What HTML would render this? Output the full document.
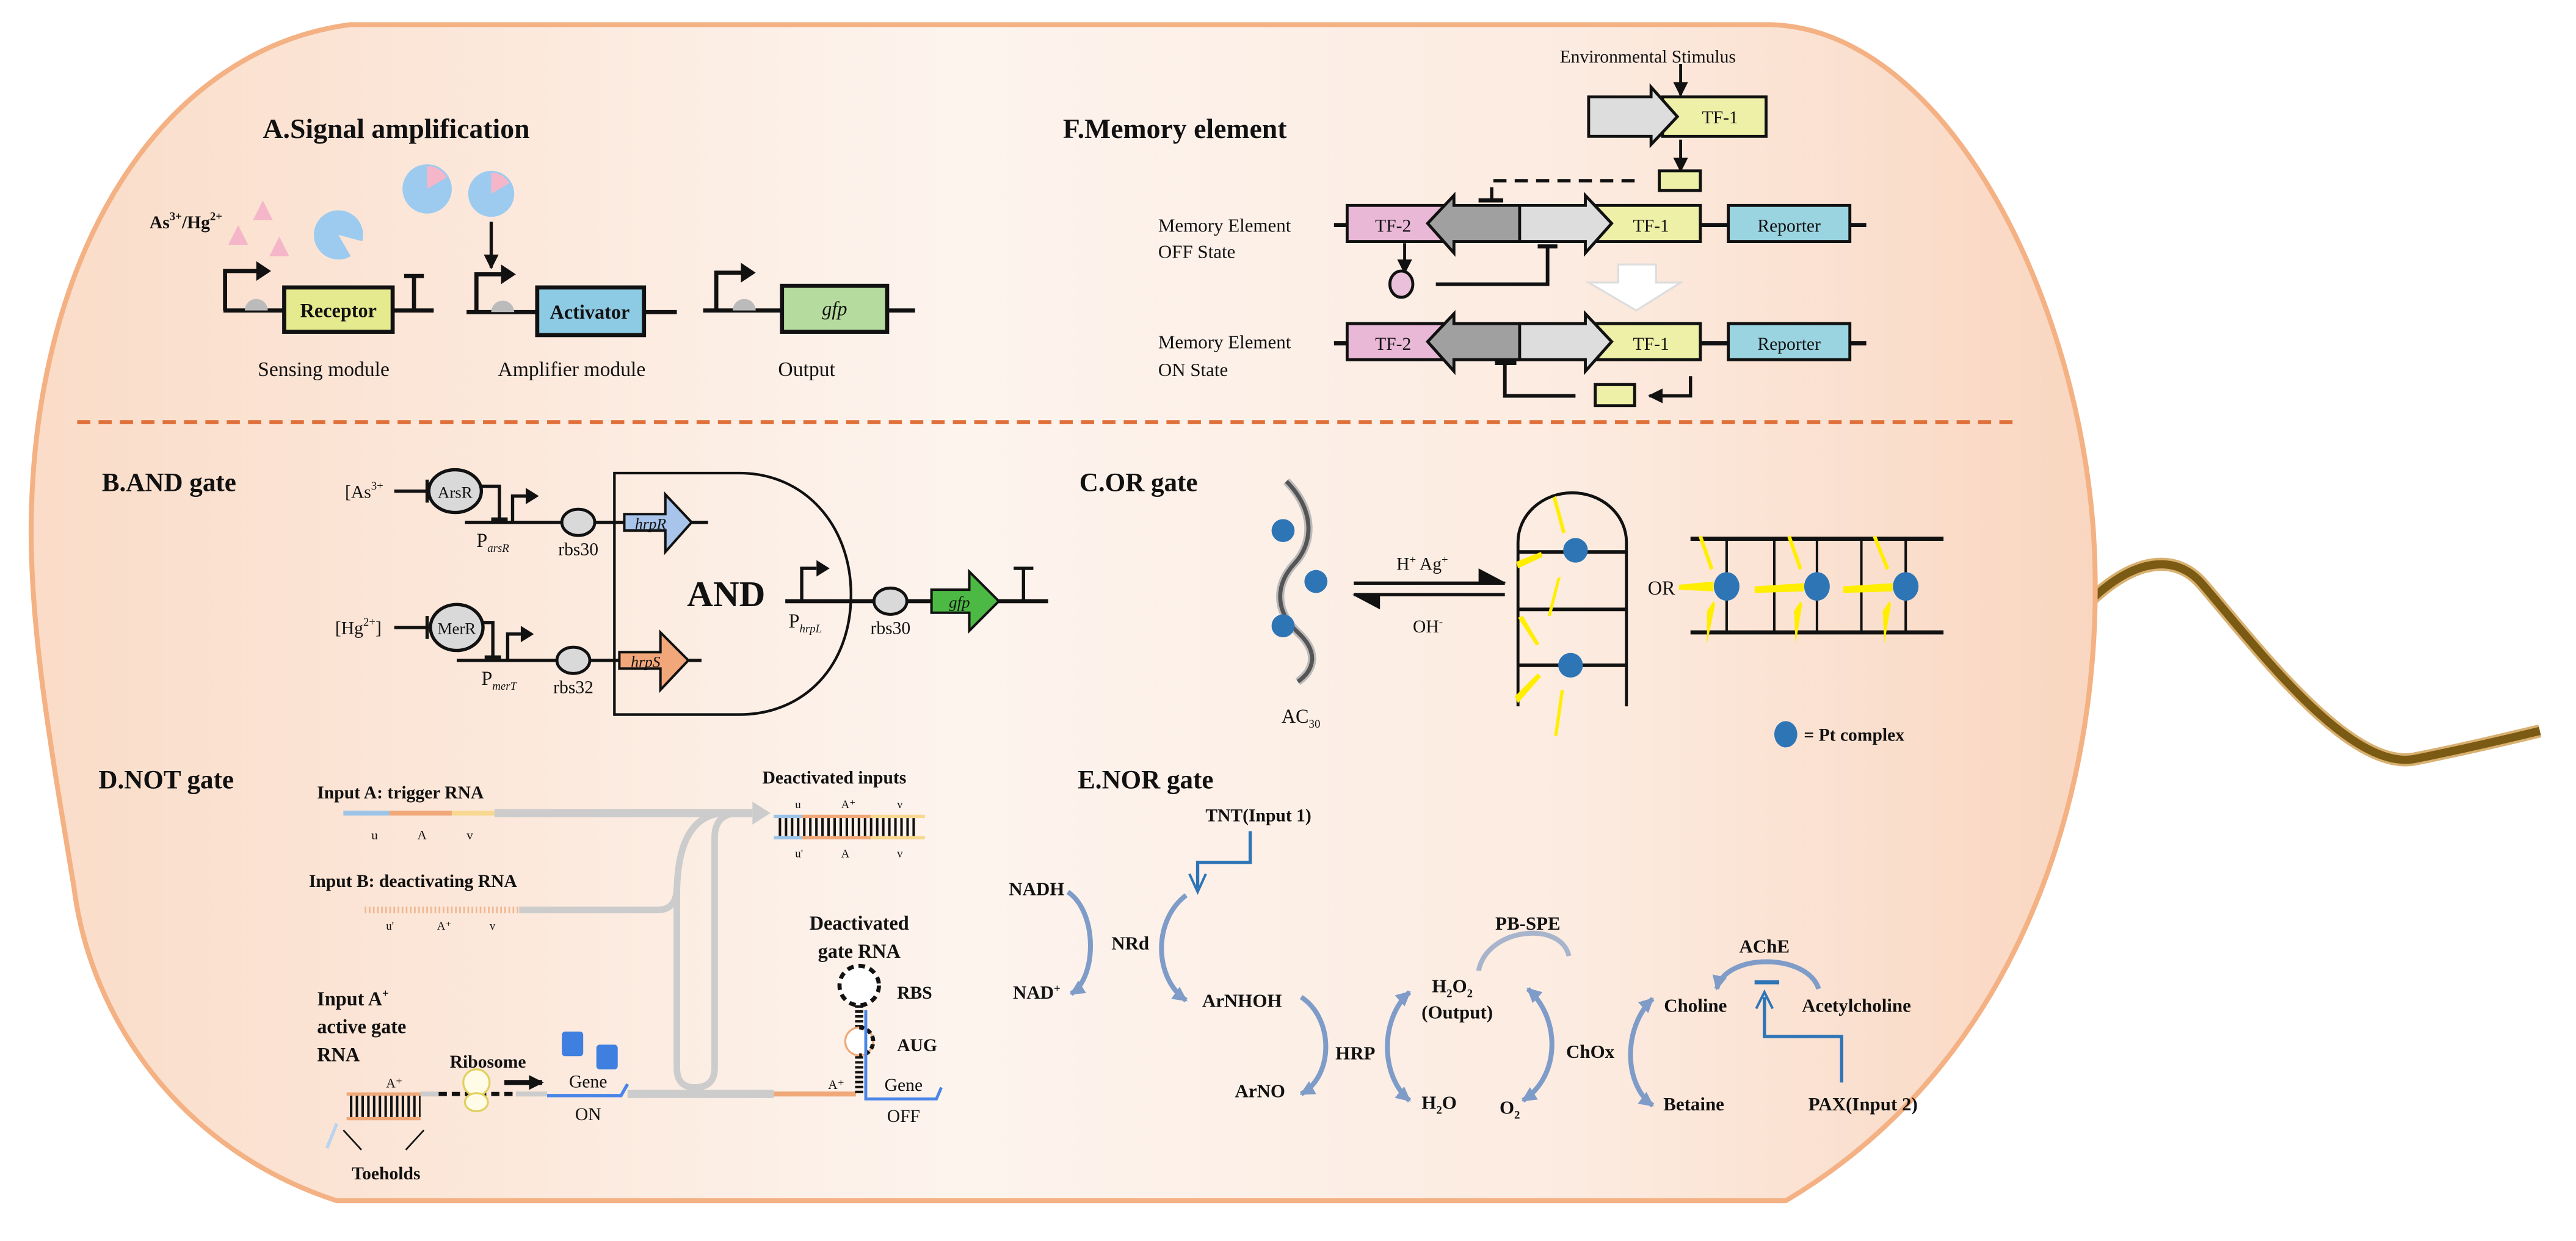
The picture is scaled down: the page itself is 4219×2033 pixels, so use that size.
<!DOCTYPE html>
<html><head><meta charset="utf-8"><style>
html,body{margin:0;padding:0;background:#fff;}
svg{display:block;}
text{font-family:"Liberation Serif",serif;fill:#111;}
.b{font-weight:bold;}
</style></head><body>
<svg width="4219" height="2033" viewBox="0 0 1568 755.5" preserveAspectRatio="none" xmlns="http://www.w3.org/2000/svg">
<defs>
<linearGradient id="cg" x1="0" y1="0" x2="1" y2="0">
<stop offset="0" stop-color="#fadcc8"/><stop offset="0.45" stop-color="#fdf4ee"/><stop offset="0.75" stop-color="#fcebe0"/><stop offset="1" stop-color="#f9d6c0"/>
</linearGradient>
<marker id="ab" markerUnits="userSpaceOnUse" markerWidth="9" markerHeight="9" refX="8" refY="4.5" orient="auto"><path d="M0,0 L9,4.5 L0,9 Z" fill="#111"/></marker>
<marker id="bl" markerUnits="userSpaceOnUse" markerWidth="9" markerHeight="9" refX="8" refY="4.5" orient="auto"><path d="M0,0 L9,4.5 L0,9 Z" fill="#7f9cc9"/></marker>
<marker id="bls" markerUnits="userSpaceOnUse" markerWidth="9" markerHeight="9" refX="1" refY="4.5" orient="auto"><path d="M9,0 L0,4.5 L9,9 Z" fill="#7f9cc9"/></marker>
</defs>

<path d="M1270,368 C1300,338 1325,338 1340,355 C1372,392 1430,470 1470,462 C1500,456 1525,450 1546,445" fill="none" stroke="#d8b070" stroke-width="8"/>
<path d="M1270,368 C1300,338 1325,338 1340,355 C1372,392 1430,470 1470,462 C1500,456 1525,450 1546,445" fill="none" stroke="#7b5a14" stroke-width="5"/>

<path d="M213,15 L1078,15 C1180,18 1262,170 1274,320 C1284,460 1240,640 1087,731 L205,731 C110,700 55,620 45,540 C30,450 18,380 19,316 C22,150 100,30 213,15 Z" fill="url(#cg)" stroke="#f4b183" stroke-width="3"/>

<line x1="47" y1="257" x2="1230" y2="257" stroke="#e0703a" stroke-width="2.5" stroke-dasharray="8 5"/>

<!-- A -->
<text x="160" y="84" class="b" font-size="17">A.Signal amplification</text>
<text x="91" y="139" class="b" font-size="11">As<tspan font-size="7" dy="-5">3+</tspan><tspan dy="5">/Hg</tspan><tspan font-size="7" dy="-5">2+</tspan></text>
<polygon points="160,122 166,134 154,134" fill="#f4b6c8"/>
<polygon points="145,137 151,149 139,149" fill="#f4b6c8"/>
<polygon points="170,144 176,156 164,156" fill="#f4b6c8"/>
<path d="M206,143 L220.5,146.9 A15,15 0 1 0 213.5,156 Z" fill="#9dcbf0"/>
<circle cx="260" cy="115" r="15" fill="#9dcbf0"/>
<path d="M260,115 L260,101 A14,14 0 0 1 272,108 Z" fill="#f4b6c8"/>
<circle cx="299" cy="118" r="14" fill="#9dcbf0"/>
<path d="M299,118 L299,105 A13,13 0 0 1 310,111.5 Z" fill="#f4b6c8"/>
<line x1="299" y1="135" x2="299" y2="163" stroke="#111" stroke-width="2" marker-end="url(#ab)"/>

<g stroke="#111" stroke-width="2.5" fill="none">
<line x1="136" y1="189" x2="264" y2="189"/>
<path d="M137,189 V165 H157"/>
<line x1="252" y1="189" x2="252" y2="168"/><line x1="246" y1="168" x2="258" y2="168"/>
<line x1="284" y1="190" x2="412" y2="190"/>
<path d="M290,190 V167 H306"/>
<line x1="428" y1="189" x2="557" y2="189"/>
<path d="M436,189 V166 H452"/>
</g>
<polygon points="156,159 165,165 156,171" fill="#111"/>
<polygon points="305,161 314,167 305,173" fill="#111"/>
<polygon points="451,160 460,166 451,172" fill="#111"/>
<path d="M149,189 A7,7 0 0 1 163,189 Z" fill="#bbb"/>
<path d="M299,190 A7,7 0 0 1 313,190 Z" fill="#bbb"/>
<path d="M446,189 A7,7 0 0 1 460,189 Z" fill="#bbb"/>
<rect x="173" y="175" width="66" height="27" fill="#e6ea8e" stroke="#111" stroke-width="2.5"/>
<rect x="327" y="175" width="65" height="29" fill="#8dcae4" stroke="#111" stroke-width="2.5"/>
<rect x="476" y="174" width="64" height="28" fill="#b5dc9e" stroke="#111" stroke-width="2.5"/>
<text x="206" y="193" class="b" font-size="12" text-anchor="middle">Receptor</text>
<text x="359" y="194" class="b" font-size="12" text-anchor="middle">Activator</text>
<text x="508" y="192" font-style="italic" font-size="12" text-anchor="middle">gfp</text>
<text x="197" y="229" font-size="12.5" text-anchor="middle">Sensing module</text>
<text x="348" y="229" font-size="12.5" text-anchor="middle">Amplifier module</text>
<text x="491" y="229" font-size="12.5" text-anchor="middle">Output</text>

<!-- F -->
<text x="647" y="84" class="b" font-size="17">F.Memory element</text>
<text x="1003" y="38" font-size="11" text-anchor="middle">Environmental Stimulus</text>
<line x1="1023" y1="39" x2="1023" y2="58" stroke="#111" stroke-width="1.8" marker-end="url(#ab)"/>
<rect x="1012" y="59" width="63" height="24" fill="#eef0a8" stroke="#111" stroke-width="1.8"/>
<polygon points="967,59 1005,59 1005,53 1021,71 1005,88 1005,83 967,83" fill="#ddd" stroke="#111" stroke-width="1.8"/>
<text x="1047" y="75" font-size="11" text-anchor="middle">TF-1</text>
<line x1="1023" y1="85" x2="1023" y2="104" stroke="#111" stroke-width="1.8" marker-end="url(#ab)"/>
<rect x="1010" y="104" width="25" height="12" fill="#eef0a8" stroke="#111" stroke-width="1.8"/>
<path d="M995,110 H908 V121" fill="none" stroke="#111" stroke-width="2" stroke-dasharray="8 5"/>
<line x1="900" y1="122" x2="915" y2="122" stroke="#111" stroke-width="2.5"/>

<g id="row">
<line x1="812" y1="137" x2="1136" y2="137" stroke="#111" stroke-width="2.5"/>
<rect x="820" y="125" width="60" height="22" fill="#e9b8d6" stroke="#111" stroke-width="1.8"/>
<rect x="970" y="125" width="65" height="22" fill="#eef0a8" stroke="#111" stroke-width="1.8"/>
<rect x="1052" y="125" width="74" height="22" fill="#9ad4e0" stroke="#111" stroke-width="1.8"/>
<polygon points="925,125 885,125 885,119 869,136 885,154 885,147 925,147" fill="#a0a0a0" stroke="#111" stroke-width="1.8"/>
<polygon points="925,125 965,125 965,119 981,136 965,154 965,147 925,147" fill="#ddd" stroke="#111" stroke-width="1.8"/>
<text x="848" y="141" font-size="11" text-anchor="middle">TF-2</text>
<text x="1005" y="141" font-size="11" text-anchor="middle">TF-1</text>
<text x="1089" y="141" font-size="11" text-anchor="middle">Reporter</text>
</g>
<use href="#row" transform="translate(0,72)"/>
<text x="705" y="141" font-size="11.5">Memory Element</text>
<text x="705" y="157" font-size="11.5">OFF State</text>
<text x="705" y="212" font-size="11.5">Memory Element</text>
<text x="705" y="229" font-size="11.5">ON State</text>
<line x1="855" y1="148" x2="855" y2="166" stroke="#111" stroke-width="1.8" marker-end="url(#ab)"/>
<ellipse cx="853" cy="173" rx="7" ry="8" fill="#ebc0da" stroke="#111" stroke-width="1.8"/>
<path d="M874,173 H942 V150" fill="none" stroke="#111" stroke-width="2.2"/>
<line x1="936" y1="150" x2="948" y2="150" stroke="#111" stroke-width="2.5"/>
<polygon points="985,161 1008,161 1008,172 1023,172 996,189 967,172 985,172" fill="#fff" stroke="#ddd" stroke-width="1.2"/>
<line x1="910" y1="221" x2="923" y2="221" stroke="#111" stroke-width="2.5"/>
<path d="M916,221 V241 H959" fill="none" stroke="#111" stroke-width="2.2"/>
<rect x="971" y="234" width="24" height="13" fill="#eef0a8" stroke="#111" stroke-width="1.8"/>
<path d="M1029,229 V241 H1004" fill="none" stroke="#111" stroke-width="2" marker-end="url(#ab)"/>

<!-- B -->
<text x="62" y="299" class="b" font-size="16">B.AND gate</text>
<text x="210" y="303" font-size="11">[As<tspan font-size="7" dy="-5">3+</tspan></text>
<text x="204" y="386" font-size="11">[Hg<tspan font-size="7" dy="-5">2+</tspan><tspan dy="5">]</tspan></text>
<g stroke="#111" stroke-width="2" fill="none">
<line x1="240" y1="299" x2="260" y2="299"/><line x1="260" y1="292" x2="260" y2="306"/>
<line x1="240" y1="382" x2="260" y2="382"/><line x1="260" y1="375" x2="260" y2="389"/>
<path d="M293,296 H304 V316"/><line x1="299" y1="316" x2="309" y2="316"/>
<path d="M294,379 H300 V400"/><line x1="295" y1="400" x2="305" y2="400"/>
<line x1="283" y1="318" x2="431" y2="318"/>
<line x1="278" y1="402" x2="427" y2="402"/>
<path d="M312,318 V302 H320"/>
<path d="M309,402 V386 H317"/>
<path d="M374,288 H450 C490,288 518,320 518,362 C518,405 490,435 450,435 H374 Z" stroke-width="1.6"/>
<line x1="478" y1="366" x2="638" y2="366" stroke-width="2.5"/>
<path d="M488,366 V346 H497"/>
<line x1="623" y1="366" x2="623" y2="346"/><line x1="617" y1="346" x2="629" y2="346"/>
</g>
<polygon points="320,297 328,302 320,307" fill="#111"/>
<polygon points="317,381 325,386 317,391" fill="#111"/>
<polygon points="497,341 505,346 497,351" fill="#111"/>
<ellipse cx="277" cy="299" rx="16" ry="13" fill="#d9d9d9" stroke="#111" stroke-width="2"/>
<ellipse cx="278" cy="382" rx="16" ry="14" fill="#d9d9d9" stroke="#111" stroke-width="2"/>
<text x="277" y="303" font-size="10" text-anchor="middle">ArsR</text>
<text x="278" y="386" font-size="10" text-anchor="middle">MerR</text>
<ellipse cx="352" cy="318" rx="10" ry="8" fill="#d9d9d9" stroke="#111" stroke-width="1.8"/>
<ellipse cx="349" cy="402" rx="10" ry="8" fill="#d9d9d9" stroke="#111" stroke-width="1.8"/>
<ellipse cx="542" cy="366" rx="10" ry="8" fill="#d9d9d9" stroke="#111" stroke-width="1.8"/>
<polygon points="380,313 405,313 405,301 421,318 405,336 405,323 380,323" fill="#a9c4ea" stroke="#111" stroke-width="1.5"/>
<polygon points="377,397 402,397 402,385 419,402 402,420 402,407 377,407" fill="#f2a77a" stroke="#111" stroke-width="1.5"/>
<polygon points="567,359 590,359 590,348 608,366 590,384 590,373 567,373" fill="#4cb944" stroke="#111" stroke-width="1.5"/>
<text x="396" y="322" font-size="9.5" font-style="italic" text-anchor="middle" fill="#234">hrpR</text>
<text x="393" y="406" font-size="9.5" font-style="italic" text-anchor="middle">hrpS</text>
<text x="584" y="370" font-size="10" font-style="italic" text-anchor="middle">gfp</text>
<text x="442" y="369" class="b" font-size="22" text-anchor="middle">AND</text>
<text x="290" y="333" font-size="12">P<tspan font-size="7" font-style="italic" dy="3">arsR</tspan></text>
<text x="293" y="417" font-size="12">P<tspan font-size="7" font-style="italic" dy="3">merT</tspan></text>
<text x="480" y="382" font-size="12">P<tspan font-size="7" font-style="italic" dy="3">hrpL</tspan></text>
<text x="352" y="338" font-size="11" text-anchor="middle">rbs30</text>
<text x="349" y="422" font-size="11" text-anchor="middle">rbs32</text>
<text x="542" y="386" font-size="11" text-anchor="middle">rbs30</text>

<!-- C -->
<text x="657" y="299" class="b" font-size="16">C.OR gate</text>
<path d="M783,293 C800,310 800,330 788,343 C776,356 776,372 790,385 C803,397 800,408 790,415" fill="none" stroke="#bbb" stroke-width="5"/>
<path d="M783,293 C800,310 800,330 788,343 C776,356 776,372 790,385 C803,397 800,408 790,415" fill="none" stroke="#555" stroke-width="2.5"/>
<circle cx="781" cy="323" r="7" fill="#2e75b6"/>
<circle cx="801" cy="354" r="7" fill="#2e75b6"/>
<circle cx="781" cy="381" r="7" fill="#2e75b6"/>
<text x="780" y="440" font-size="12">AC<tspan font-size="7" dy="3">30</tspan></text>
<line x1="824" y1="355" x2="916" y2="355" stroke="#111" stroke-width="2"/>
<polygon points="900,346 917,355 900,355" fill="#111"/>
<line x1="824" y1="362" x2="916" y2="362" stroke="#111" stroke-width="2"/>
<polygon points="840,362 823,362 840,371" fill="#111"/>
<text x="850" y="347" font-size="11">H<tspan font-size="7" dy="-4">+</tspan><tspan dy="4">  Ag</tspan><tspan font-size="7" dy="-4">+</tspan></text>
<text x="860" y="385" font-size="11">OH<tspan font-size="7" dy="-4">-</tspan></text>
<g stroke="#111" fill="none">
<path d="M924,430 V330 A33,30 0 0 1 990,330 V430" stroke-width="1.8"/>
<line x1="924" y1="336" x2="990" y2="336" stroke-width="2.2"/>
<line x1="924" y1="371" x2="990" y2="371" stroke-width="2.2"/>
<line x1="924" y1="405" x2="990" y2="405" stroke-width="2.2"/>
<line x1="1029" y1="328" x2="1183" y2="328" stroke-width="2.5"/>
<line x1="1029" y1="385" x2="1183" y2="385" stroke-width="2.5"/>
<line x1="1051" y1="328" x2="1051" y2="385" stroke-width="1.5"/>
<line x1="1080" y1="328" x2="1080" y2="385" stroke-width="1.5"/>
<line x1="1106" y1="328" x2="1106" y2="385" stroke-width="1.5"/>
<line x1="1133" y1="328" x2="1133" y2="385" stroke-width="1.5"/>
<line x1="1160" y1="328" x2="1160" y2="385" stroke-width="1.5"/>
</g>
<g fill="#ffee00">
<polygon points="945,303 947,302 953,324 951,325"/>
<polygon points="923,342 938,336 939,339 924,346"/>
<polygon points="948,352 950,351 944,375 942,375"/>
<polygon points="924,376 927,375 937,392 935,393"/>
<polygon points="922,424 936,410 938,412 924,428"/>
<polygon points="950,420 952,420 948,448 946,448"/>
<polygon points="1034,327 1036,326 1043,346 1041,347"/>
<polygon points="1039,372 1043,366 1044,368 1039,392"/>
<polygon points="1088,327 1090,326 1097,346 1095,347"/>
<polygon points="1092,372 1096,366 1097,368 1093,392"/>
<polygon points="1140,327 1142,326 1150,346 1148,347"/>
<polygon points="1146,372 1150,366 1151,368 1147,392"/>
<polygon points="1022,356 1043,354 1043,360 1022,359"/>
<polygon points="1068,357 1098,355 1098,360 1068,361"/>
<polygon points="1122,357 1152,355 1152,360 1122,361"/>
</g>
<circle cx="959" cy="335" r="7.5" fill="#2e75b6"/>
<circle cx="956" cy="405" r="7.5" fill="#2e75b6"/>
<ellipse cx="1051" cy="357" rx="7.8" ry="8.7" fill="#2e75b6"/>
<ellipse cx="1106" cy="357" rx="7.8" ry="8.7" fill="#2e75b6"/>
<ellipse cx="1160" cy="357" rx="7.8" ry="8.7" fill="#2e75b6"/>
<text x="1003" y="362" font-size="12">OR</text>
<ellipse cx="1087" cy="447" rx="7" ry="8" fill="#2e75b6"/>
<text x="1098" y="451" class="b" font-size="11">= Pt complex</text>

<!-- D -->
<text x="60" y="480" class="b" font-size="16">D.NOT gate</text>
<text x="193" y="486" class="b" font-size="11">Input A: trigger RNA</text>
<line x1="209" y1="495" x2="237" y2="495" stroke="#9cc3e8" stroke-width="3"/>
<line x1="237" y1="495" x2="275" y2="495" stroke="#f0a878" stroke-width="3"/>
<line x1="275" y1="495" x2="301" y2="495" stroke="#f8d890" stroke-width="3"/>
<line x1="301" y1="495" x2="458" y2="495" stroke="#ccc" stroke-width="5"/>
<polygon points="458,488 469,495 458,502" fill="#ccc"/>
<text x="226" y="511" font-size="8" fill="#9cc3e8">u</text>
<text x="254" y="511" font-size="8" fill="#f0a878">A</text>
<text x="284" y="511" font-size="8" fill="#f8d890">v</text>
<text x="464" y="477" class="b" font-size="11">Deactivated inputs</text>
<line x1="471" y1="497" x2="488" y2="497" stroke="#9cc3e8" stroke-width="2"/>
<line x1="488" y1="497" x2="530" y2="497" stroke="#f0a878" stroke-width="2"/>
<line x1="530" y1="497" x2="563" y2="497" stroke="#f8d890" stroke-width="2"/>
<line x1="471" y1="510" x2="488" y2="510" stroke="#9cc3e8" stroke-width="2"/>
<line x1="488" y1="510" x2="530" y2="510" stroke="#f0a878" stroke-width="2"/>
<line x1="530" y1="510" x2="563" y2="510" stroke="#f8d890" stroke-width="2"/>
<line x1="474" y1="503.5" x2="558" y2="503.5" stroke="#111" stroke-width="11" stroke-dasharray="1.5 2.2"/>
<text x="484" y="492" font-size="7" fill="#9cc3e8">u</text>
<text x="512" y="492" font-size="7" fill="#f0a878">A⁺</text>
<text x="546" y="492" font-size="7" fill="#f8d890">v</text>
<text x="484" y="522" font-size="7" fill="#9cc3e8">u'</text>
<text x="512" y="522" font-size="7" fill="#f0a878">A</text>
<text x="546" y="522" font-size="7" fill="#f8d890">v</text>
<text x="188" y="540" class="b" font-size="11">Input B: deactivating RNA</text>
<line x1="222" y1="554" x2="316" y2="554" stroke="#f0b890" stroke-width="4" stroke-dasharray="1 1.5"/>
<text x="235" y="566" font-size="7" fill="#9cc3e8">u'</text>
<text x="266" y="566" font-size="7" fill="#f0a878">A⁺</text>
<text x="298" y="566" font-size="7" fill="#f8d890">v</text>
<g fill="none" stroke="#ccc" stroke-width="4">
<path d="M316,554 H400 Q412,554 412,540 V650 Q412,662 423,662 Q435,662 435,650 V510 Q435,495 450,495"/>
<path d="M412,545 Q412,497 440,495"/>
</g>
<text x="193" y="612" class="b" font-size="12">Input A<tspan font-size="7" dy="-5">+</tspan></text>
<text x="193" y="629" class="b" font-size="12">active gate</text>
<text x="193" y="646" class="b" font-size="12">RNA</text>
<line x1="211" y1="666" x2="256" y2="666" stroke="#f0a878" stroke-width="2"/>
<line x1="211" y1="681" x2="256" y2="681" stroke="#f0a878" stroke-width="2"/>
<line x1="213" y1="673.5" x2="256" y2="673.5" stroke="#111" stroke-width="13" stroke-dasharray="1.5 2"/>
<line x1="256" y1="666" x2="267" y2="666" stroke="#ccc" stroke-width="3"/>
<line x1="267" y1="666" x2="314" y2="666" stroke="#111" stroke-width="2.5" stroke-dasharray="5 3"/>
<line x1="314" y1="666" x2="333" y2="666" stroke="#ccc" stroke-width="3"/>
<circle cx="290" cy="659" r="8" fill="#fffbe6" stroke="#e0d060" stroke-width="1.2"/>
<ellipse cx="290" cy="671" rx="7" ry="5.5" fill="#fffbe6" stroke="#e0d060" stroke-width="1.2"/>
<line x1="307" y1="659" x2="330" y2="659" stroke="#111" stroke-width="3" marker-end="url(#ab)"/>
<text x="297" y="650" class="b" font-size="11" text-anchor="middle">Ribosome</text>
<text x="235" y="662" font-size="8" fill="#f0a878">A⁺</text>
<rect x="342" y="628" width="13" height="15" rx="2" fill="#3f7fe0"/>
<rect x="363" y="636" width="13" height="15" rx="2" fill="#3f7fe0"/>
<path d="M333,667 H378 L382,660" fill="none" stroke="#4a86e8" stroke-width="2"/>
<text x="358" y="662" font-size="11" fill="#4a7fd0" text-anchor="middle">Gene</text>
<text x="358" y="682" font-size="11" fill="#4a7fd0" text-anchor="middle">ON</text>
<line x1="382" y1="666" x2="471" y2="666" stroke="#ccc" stroke-width="5"/>
<line x1="471" y1="666" x2="521" y2="666" stroke="#f0a878" stroke-width="3"/>
<line x1="205" y1="684" x2="199" y2="699" stroke="#b8d4f0" stroke-width="2"/>
<line x1="209" y1="688" x2="220" y2="700" stroke="#111" stroke-width="1"/>
<line x1="258" y1="688" x2="247" y2="700" stroke="#111" stroke-width="1"/>
<text x="235" y="718" class="b" font-size="11" text-anchor="middle">Toeholds</text>
<text x="523" y="566" class="b" font-size="12" text-anchor="middle">Deactivated</text>
<text x="523" y="583" class="b" font-size="12" text-anchor="middle">gate RNA</text>
<circle cx="523" cy="600" r="12" fill="#fff" stroke="#111" stroke-width="2.5" stroke-dasharray="4 3"/>
<line x1="523" y1="612" x2="523" y2="626" stroke="#111" stroke-width="5" stroke-dasharray="1.5 1.5"/>
<circle cx="523" cy="634" r="8.5" fill="#fff" stroke="#f0a878" stroke-width="1.2"/>
<path d="M523,625.5 A8.5,8.5 0 0 1 523,642.5" fill="none" stroke="#111" stroke-width="2.5" stroke-dasharray="3 2"/>
<line x1="523" y1="643" x2="523" y2="666" stroke="#111" stroke-width="5" stroke-dasharray="1.5 1.5"/>
<path d="M527,615 V669 H570 L573,662" fill="none" stroke="#4a86e8" stroke-width="1.8"/>
<text x="546" y="608" class="b" font-size="11">RBS</text>
<text x="546" y="640" class="b" font-size="11">AUG</text>
<text x="504" y="663" font-size="8" fill="#f0a878">A⁺</text>
<text x="550" y="664" font-size="11" fill="#4a7fd0" text-anchor="middle">Gene</text>
<text x="550" y="683" font-size="11" fill="#4a7fd0" text-anchor="middle">OFF</text>

<!-- E -->
<text x="656" y="480" class="b" font-size="16">E.NOR gate</text>
<text x="766" y="500" class="b" font-size="11" text-anchor="middle" fill="#2e75b6">TNT(Input 1)</text>
<path d="M761,506 V525 H729 V541" fill="none" stroke="#2e75b6" stroke-width="2"/>
<polyline points="724,532 729,543 734,532" fill="none" stroke="#2e75b6" stroke-width="1.5"/>
<g fill="none" stroke="#7f9cc9" stroke-width="3">
<path d="M650,543 C668,555 668,595 652,605" marker-end="url(#bl)"/>
<path d="M722,545 C702,560 702,595 722,609" marker-end="url(#bl)"/>
<path d="M792,607 C812,620 812,655 792,666" marker-end="url(#bl)"/>
<path d="M858,604 C840,620 840,655 858,670" marker-start="url(#bls)" marker-end="url(#bl)"/>
<path d="M927,670 C950,655 950,620 930,602" marker-start="url(#bls)" marker-end="url(#bl)"/>
<path d="M1006,608 C988,625 988,660 1006,673" marker-start="url(#bls)" marker-end="url(#bl)"/>
<path d="M900,591 C905,565 950,560 955,582" stroke="#a8b4cc"/>
<path d="M1107,602 C1100,580 1050,580 1045,602" marker-end="url(#bl)"/>
</g>
<text x="631" y="545" class="b" font-size="11.5" text-anchor="middle">NADH</text>
<text x="631" y="608" class="b" font-size="11.5" text-anchor="middle">NAD<tspan font-size="7" dy="-4">+</tspan></text>
<text x="688" y="578" class="b" font-size="11.5" text-anchor="middle">NRd</text>
<text x="756" y="613" class="b" font-size="11.5" text-anchor="middle">ArNHOH</text>
<text x="825" y="645" class="b" font-size="11.5" text-anchor="middle">HRP</text>
<text x="767" y="668" class="b" font-size="11.5" text-anchor="middle">ArNO</text>
<text x="876" y="675" class="b" font-size="11.5" text-anchor="middle">H<tspan font-size="7" dy="3">2</tspan><tspan dy="-3">O</tspan></text>
<text x="884" y="604" class="b" font-size="11.5" text-anchor="middle">H<tspan font-size="7" dy="3">2</tspan><tspan dy="-3">O</tspan><tspan font-size="7" dy="3">2</tspan></text>
<text x="887" y="620" class="b" font-size="11.5" text-anchor="middle">(Output)</text>
<text x="919" y="678" class="b" font-size="11.5" text-anchor="middle">O<tspan font-size="7" dy="3">2</tspan></text>
<text x="968" y="644" class="b" font-size="11.5" text-anchor="middle">ChOx</text>
<text x="930" y="566" class="b" font-size="11.5" text-anchor="middle">PB-SPE</text>
<text x="1032" y="616" class="b" font-size="11.5" text-anchor="middle">Choline</text>
<text x="1031" y="676" class="b" font-size="11.5" text-anchor="middle">Betaine</text>
<text x="1074" y="580" class="b" font-size="11.5" text-anchor="middle">AChE</text>
<text x="1130" y="616" class="b" font-size="11.5" text-anchor="middle">Acetylcholine</text>
<text x="1134" y="676" class="b" font-size="11.5" text-anchor="middle" fill="#2e75b6">PAX(Input 2)</text>
<line x1="1068" y1="598" x2="1083" y2="598" stroke="#2e75b6" stroke-width="2.5"/>
<path d="M1121,659 V631 H1074 V607" fill="none" stroke="#2e75b6" stroke-width="2"/>
<polyline points="1069,614 1074,604 1079,614" fill="none" stroke="#2e75b6" stroke-width="1.5"/>
</svg>
</body></html>
